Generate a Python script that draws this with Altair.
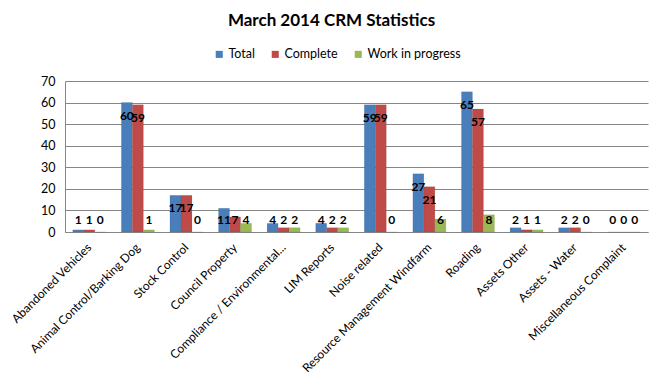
import altair as alt
import pandas as pd

categories = [
    "Abandoned Vehicles", "Animal Control/Barking Dog", "Stock Control",
    "Council Property", "Compliance / Environmental...", "LIM Reports",
    "Noise related", "Resource Management Windfarm", "Roading",
    "Assets Other", "Assets - Water", "Miscellaneous Complaint",
]
series = ["Total", "Complete", "Work in progress"]
total = [1, 60, 17, 11, 4, 4, 59, 27, 65, 2, 2, 0]
complete = [1, 59, 17, 7, 2, 2, 59, 21, 57, 1, 2, 0]
wip = [0, 1, 0, 4, 2, 2, 0, 6, 8, 1, 0, 0]
colors = ["#4A7EBB", "#BE4B48", "#98B954"]

rows = []
for i, c in enumerate(categories):
    for s, vals in zip(series, [total, complete, wip]):
        rows.append({"category": c, "series": s, "value": vals[i]})
df = pd.DataFrame(rows)

FONT = "Lato"

x = alt.X("category:N", sort=categories, title=None,
          scale=alt.Scale(paddingInner=0.32, paddingOuter=0.16),
          axis=alt.Axis(labelAngle=-45, labelAlign="right", labelBaseline="middle",
                        labelFontSize=12, labelColor="#000000", labelFont=FONT,
                        labelPadding=13, ticks=False, domainColor="#868686",
                        labelLimit=300, labelOverlap=False))
xo = alt.XOffset("series:N", sort=series)
yscale = alt.Scale(domain=[0, 70], nice=False)
yaxis = alt.Axis(values=list(range(0, 71, 10)), labelFontSize=12.5,
                 labelColor="#000000", labelFont=FONT, ticks=False,
                 domainColor="#868686", gridColor="#868686",
                 labelPadding=10, labelOverlap=False)

base = alt.Chart(df)

bars = base.mark_bar(stroke="#00000022", strokeWidth=0.5).encode(
    x=x, xOffset=xo,
    y=alt.Y("value:Q", title=None, scale=yscale, axis=yaxis),
    color=alt.Color("series:N", sort=series,
                    scale=alt.Scale(domain=series, range=colors),
                    legend=alt.Legend(title=None, orient="none", direction="horizontal",
                                      legendX=148, legendY=-33, symbolType="square",
                                      symbolSize=50, symbolStrokeWidth=0,
                                      labelFontSize=12.5, labelFont=FONT,
                                      labelColor="#000000", columnPadding=14,
                                      labelOffset=3)),
)

labels = base.transform_calculate(
    pos="max(datum.value - 6, 5.5)"
).mark_text(fontSize=12, fontWeight="bold", font=FONT, color="#000000",
            baseline="middle").encode(
    x=x, xOffset=xo,
    y=alt.Y("pos:Q", title=None, scale=yscale, axis=yaxis),
    text=alt.Text("value:Q"),
)

chart = alt.layer(bars, labels).properties(
    width=583, height=151,
    autosize=alt.AutoSizeParams(type="none"),
    padding={"left": 57, "top": 73, "right": 6, "bottom": 151},
    title=alt.Title("March 2014 CRM Statistics", fontSize=17, fontWeight="bold",
                    font=FONT, color="#000000", anchor="middle", dx=-25, offset=18),
).configure_view(stroke=None)

chart.save("out.html", embed_options={"renderer": "svg", "actions": False})
